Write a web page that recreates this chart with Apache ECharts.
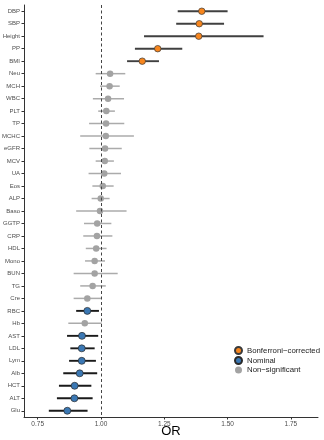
<!DOCTYPE html>
<html>
<head>
<meta charset="utf-8">
<script src="https://cdn.jsdelivr.net/npm/echarts@6/dist/echarts.min.js"></script>
<style>
  html, body { margin: 0; padding: 0; background: #fff; }
  #chart { width: 324px; height: 440px; }
</style>
</head>
<body>
<div id="chart"></div>
<script>
// traits, top to bottom
var traits = ['DBP', 'SBP', 'Height', 'PP', 'BMI', 'Neu', 'MCH', 'WBC', 'PLT', 'TP', 'MCHC',
  'eGFR', 'MCV', 'UA', 'Eos', 'ALP', 'Baso', 'GGTP', 'CRP', 'HDL', 'Mono', 'BUN', 'TG',
  'Cre', 'RBC', 'Hb', 'AST', 'LDL', 'Lym', 'Alb', 'HCT', 'ALT', 'Glu'];
var orValues = [1.398, 1.388, 1.386, 1.224, 1.163, 1.036, 1.034, 1.028, 1.021, 1.020, 1.019,
  1.016, 1.015, 1.013, 1.007, 0.999, 0.996, 0.985, 0.984, 0.981, 0.975, 0.975, 0.967,
  0.946, 0.946, 0.936, 0.925, 0.924, 0.924, 0.916, 0.896, 0.895, 0.867];
var ciLower = [1.303, 1.297, 1.170, 1.134, 1.103, 0.979, 0.996, 0.968, 0.989, 0.953, 0.918,
  0.954, 0.979, 0.951, 0.966, 0.963, 0.902, 0.933, 0.930, 0.940, 0.937, 0.892, 0.918,
  0.892, 0.902, 0.871, 0.866, 0.879, 0.874, 0.851, 0.834, 0.826, 0.794];
var ciUpper = [1.500, 1.486, 1.642, 1.321, 1.229, 1.096, 1.074, 1.091, 1.055, 1.092, 1.130,
  1.082, 1.051, 1.079, 1.050, 1.034, 1.101, 1.041, 1.045, 1.022, 1.016, 1.066, 1.019,
  1.003, 0.992, 1.003, 0.989, 0.975, 0.980, 0.985, 0.962, 0.967, 0.947];
// 0 = Bonferroni-corrected, 1 = Nominal, 2 = Non-significant
var significance = [0, 0, 0, 0, 0, 2, 2, 2, 2, 2, 2,
  2, 2, 2, 2, 2, 2, 2, 2, 2, 2, 2, 2,
  2, 1, 2, 1, 1, 1, 1, 1, 1, 1];
var groupNames = ['Bonferroni\u2212corrected', 'Nominal', 'Non\u2212significant'];
var xTicks = [0.75, 1.00, 1.25, 1.50, 1.75];

var pointColors = ['#F7861E', '#3B78B4', '#A3A3A3'];
var pointBorders = ['#3a3a3a', '#2a2a2a', '#A3A3A3'];
var barColors = ['#404040', '#1a1a1a', '#ABABAB'];

var chart = echarts.init(document.getElementById('chart'));

var ciData = traits.map(function (t, i) {
  return [ciLower[i], i, ciUpper[i], significance[i]];
});

var series = [{
  type: 'custom',
  silent: true,
  z: 1,
  data: ciData,
  encode: { x: 0, y: 1 },
  renderItem: function (params, api) {
    var p1 = api.coord([api.value(0), api.value(1)]);
    var p2 = api.coord([api.value(2), api.value(1)]);
    var g = api.value(3);
    return {
      type: 'line',
      shape: { x1: p1[0], y1: p1[1], x2: p2[0], y2: p2[1] },
      style: { stroke: barColors[g], lineWidth: g === 2 ? 1.5 : 1.9 }
    };
  }
}];

groupNames.forEach(function (name, g) {
  var pts = [];
  traits.forEach(function (t, i) {
    if (significance[i] === g) pts.push([orValues[i], i]);
  });
  series.push({
    name: name,
    type: 'scatter',
    z: 3,
    symbol: 'circle',
    symbolSize: g === 1 ? 7 : 6.5,
    itemStyle: {
      color: pointColors[g],
      borderColor: pointBorders[g],
      borderWidth: g === 2 ? 0 : 0.7,
      opacity: 1
    },
    data: pts
  });
});

// dashed reference line at OR = 1
series.push({
  type: 'line',
  silent: true,
  z: 0,
  symbol: 'none',
  data: [[1, 0]],
  lineStyle: { width: 0 },
  markLine: {
    silent: true,
    symbol: 'none',
    label: { show: false },
    lineStyle: { color: '#444', type: [3, 2.5], width: 1 },
    data: [{ xAxis: 1 }]
  }
});

chart.setOption({
  animation: false,
  backgroundColor: '#fff',
  textStyle: { fontFamily: 'Liberation Sans, Arial, sans-serif' },
  grid: { left: 24, right: 6, top: 5, bottom: 23, containLabel: false, outerBoundsMode: 'none' },
  legend: {
    orient: 'vertical',
    left: 229,
    top: 341,
    itemWidth: 7,
    itemHeight: 7,
    itemGap: 1,
    icon: 'circle',
    textStyle: { fontSize: 7.8, color: '#222' },
    data: groupNames
  },
  xAxis: {
    type: 'value',
    min: 0.696,
    max: 1.857,
    name: 'OR',
    nameLocation: 'middle',
    nameGap: 8,
    nameMoveOverlap: false,
    nameTextStyle: { fontSize: 13, color: '#000', verticalAlign: 'top' },
    splitLine: { show: false },
    axisLine: { show: true, onZero: false, lineStyle: { color: '#333', width: 1 } },
    axisTick: { show: true, length: 2.5, lineStyle: { color: '#333' }, customValues: xTicks },
    axisLabel: {
      fontSize: 6.5,
      color: '#4d4d4d',
      margin: 4,
      customValues: xTicks,
      formatter: function (v) { return v.toFixed(2); }
    }
  },
  yAxis: {
    type: 'category',
    inverse: true,
    data: traits,
    axisLine: { show: true, onZero: false, lineStyle: { color: '#333', width: 1 } },
    axisTick: { show: true, length: 2.5, alignWithLabel: true, lineStyle: { color: '#333' } },
    axisLabel: { fontSize: 6, color: '#4d4d4d', margin: 4, interval: 0 },
    splitLine: { show: false }
  },
  series: series
});
</script>
</body>
</html>
